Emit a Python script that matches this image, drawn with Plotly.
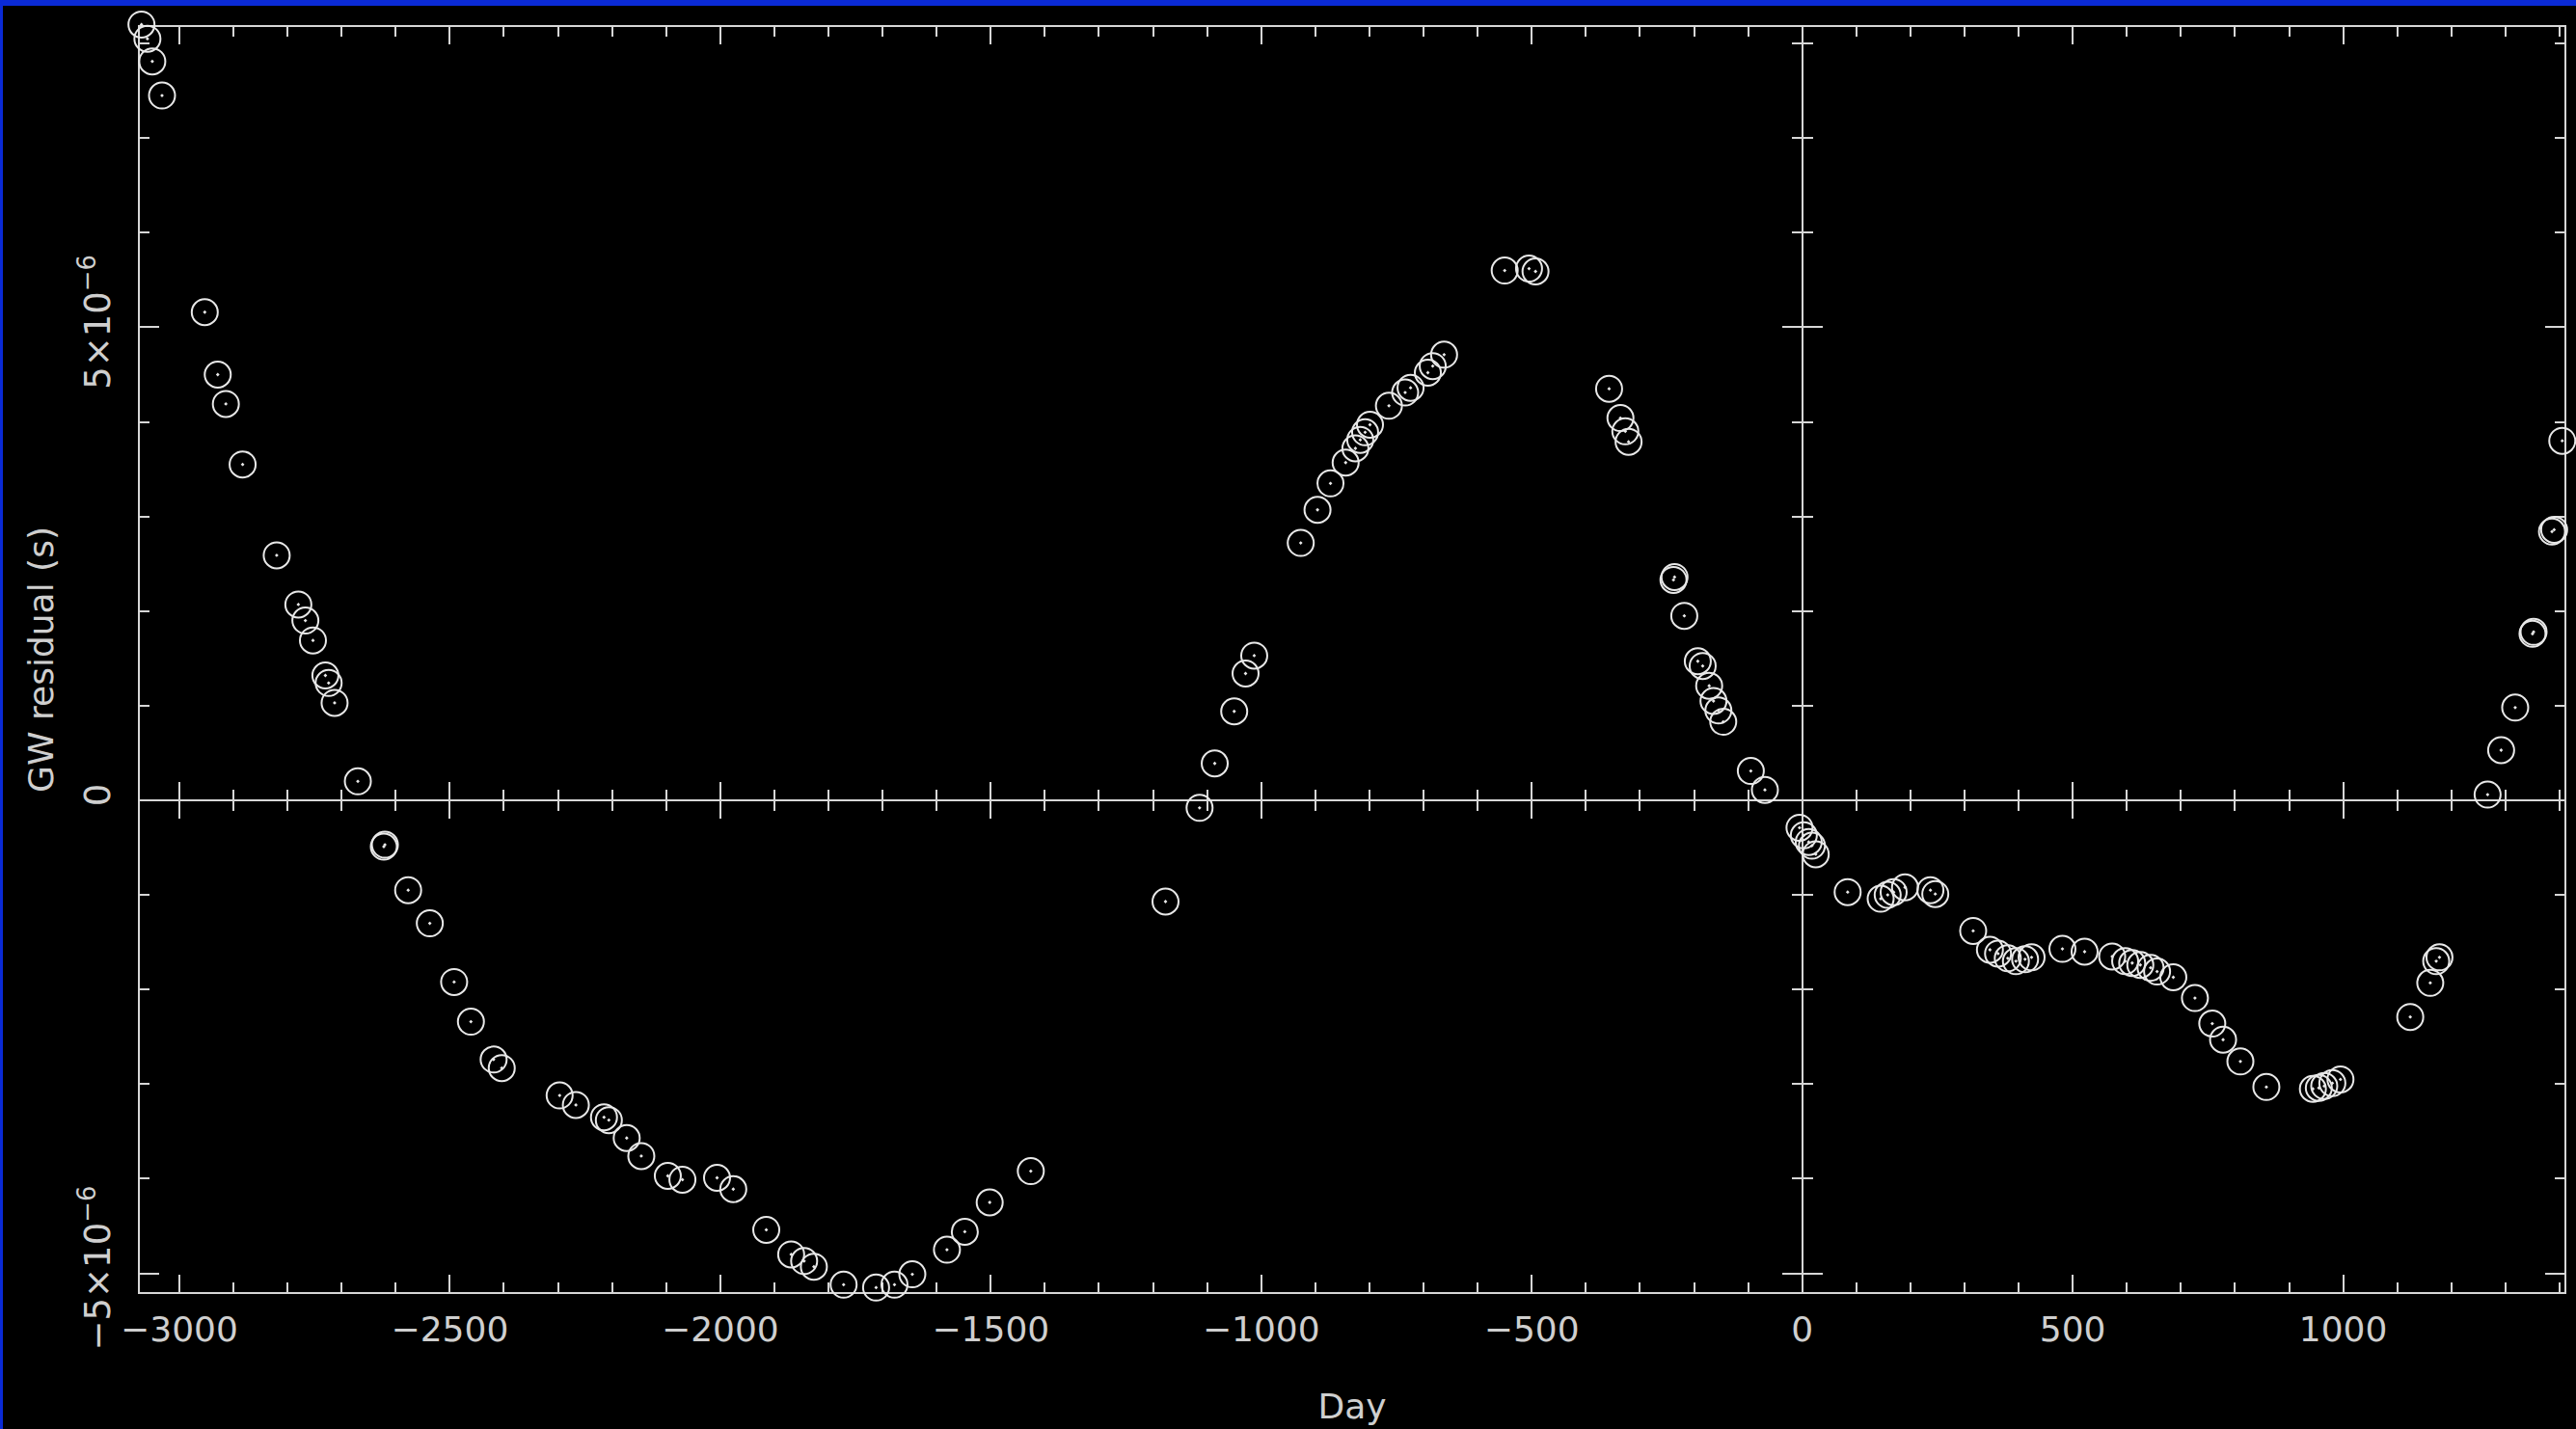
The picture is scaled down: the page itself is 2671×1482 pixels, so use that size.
import plotly.graph_objects as go

# ---- data ----
day = [-3070, -3059, -3050, -3032, -2953, -2929, -2914, -2883, -2820, -2780, -2767, -2753,
       -2730, -2724, -2713, -2670, -2622, -2620, -2577, -2537, -2492, -2461, -2419, -2404,
       -2297, -2267, -2215, -2206, -2173, -2146, -2097, -2070, -2006, -1976, -1915, -1869,
       -1845, -1827, -1772, -1712, -1678, -1645, -1581, -1548, -1502, -1426, -1177, -1114,
       -1086, -1050, -1029, -1013, -927, -896, -872, -844, -826, -817, -808, -799, -764,
       -734, -724, -692, -683, -662, -550, -505, -493, -357, -336, -327, -321, -238, -236,
       -218, -193, -184, -172, -164, -155, -146, -95, -69, -5, 3, 12, 18, 25, 84, 145, 158,
       169, 190, 237, 246, 316, 347, 362, 380, 395, 412, 424, 481, 522, 573, 597, 610, 625,
       644, 656, 686, 726, 758, 778, 810, 858, 944, 955, 965, 980, 995, 1124, 1161, 1172,
       1178, 1267, 1292, 1318, 1350, 1352, 1386, 1390, 1405]
residual_us = [8.20, 8.05, 7.81, 7.45, 5.16, 4.50, 4.19, 3.55, 2.59, 2.07, 1.90, 1.69,
               1.32, 1.24, 1.03, 0.20, -0.49, -0.47, -0.95, -1.30, -1.92, -2.34, -2.74, -2.83,
               -3.12, -3.22, -3.35, -3.38, -3.57, -3.76, -3.97, -4.01, -3.99, -4.11, -4.54, -4.80,
               -4.87, -4.93, -5.12, -5.15, -5.12, -5.01, -4.75, -4.56, -4.25, -3.92, -1.07, -0.08,
               0.39, 0.94, 1.34, 1.53, 2.72, 3.07, 3.35, 3.57, 3.72, 3.81, 3.89, 3.97, 4.17,
               4.31, 4.36, 4.52, 4.59, 4.71, 5.60, 5.62, 5.59, 4.35, 4.04, 3.90, 3.79, 2.33, 2.36,
               1.95, 1.47, 1.42, 1.21, 1.05, 0.95, 0.83, 0.31, 0.11, -0.29, -0.37, -0.44, -0.48,
               -0.57, -0.97, -1.04, -1.00, -0.97, -0.92, -0.95, -0.99, -1.38, -1.58, -1.62, -1.67,
               -1.70, -1.68, -1.66, -1.57, -1.60, -1.65, -1.70, -1.72, -1.74, -1.77, -1.81, -1.87,
               -2.09, -2.36, -2.53, -2.76, -3.03, -3.05, -3.04, -3.02, -2.99, -2.95, -2.29, -1.93,
               -1.70, -1.66, 0.06, 0.53, 0.98, 1.76, 1.78, 2.84, 2.86, 3.80]

x_tickvals = [-3000, -2500, -2000, -1500, -1000, -500, 0, 500, 1000]
x_ticktext = ["\u22123000", "\u22122500", "\u22122000", "\u22121500", "\u22121000", "\u2212500",
              "0", "500", "1000"]
y_tickvals = [-5e-6, 0, 5e-6]
y_ticktext = ["\u22125\u00d710<sup>\u22126</sup>", "0", "5\u00d710<sup>\u22126</sup>"]

x_title = "Day"
y_title = "GW residual (s)"

# ---- styling ----
W, H = 2671, 1482
ML, MR, MT, MB = 145, 12, 0, 142
FRAME_TOP = 28                       # frame top in px from the top of the page
XR = [-3073, 1409]
YR = [-5.198e-6, 8.174e-6]
FG = "#d6d6d6"
TXT = "#cfcfcf"
BLUE = "#0a2ad6"
FONT = dict(family="DejaVu Sans", size=36, color=TXT)
YFONT = dict(family="DejaVu Sans", size=37, color=TXT)

pw = W - ML - MR
ph = H - MT - MB                     # full plotting height (includes strip above frame)
fh = ph - FRAME_TOP                  # frame height
ytop = fh / ph                       # frame domain top
# data axis spans the full height so points poking above the frame stay visible
YR_DATA = [YR[0], YR[0] + (YR[1] - YR[0]) * ph / fh]

y_res = [v * 1e-6 for v in residual_us]

fig = go.Figure()
# helper (empty) traces that register the frame and zero-line axes
fig.add_trace(go.Scatter(x=[], y=[], xaxis="x", yaxis="y", showlegend=False))
fig.add_trace(go.Scatter(x=[], y=[], xaxis="x2", yaxis="y", showlegend=False))
fig.add_trace(go.Scatter(x=[], y=[], xaxis="x3", yaxis="y", showlegend=False))
fig.add_trace(go.Scatter(x=[], y=[], xaxis="x", yaxis="y2", showlegend=False))
fig.add_trace(go.Scatter(x=[], y=[], xaxis="x", yaxis="y3", showlegend=False))
# the data
fig.add_trace(go.Scatter(
    x=day, y=y_res, mode="markers", cliponaxis=False, showlegend=False,
    xaxis="x5", yaxis="y5",
    marker=dict(symbol="circle-open-dot", size=27, color="#e8e8e8",
                line=dict(width=2, color="#e8e8e8")),
))

y0_frac = (0 - YR[0]) / (YR[1] - YR[0]) * ytop
x0_frac = (0 - XR[0]) / (XR[1] - XR[0])

common_x = dict(range=XR, tickmode="array", tickvals=x_tickvals, ticklen=18, tickwidth=2,
                tickcolor=FG, showgrid=False, zeroline=False, linecolor=FG, linewidth=2)
minor_x = dict(tickmode="linear", tick0=0, dtick=100, ticklen=10, tickwidth=2, tickcolor=FG,
               showgrid=False)
common_y = dict(range=YR, tickmode="array", tickvals=y_tickvals, ticklen=20, tickwidth=2,
                tickcolor=FG, showgrid=False, zeroline=False, linecolor=FG, linewidth=2)
minor_y = dict(tickmode="linear", tick0=0, dtick=1e-6, ticklen=10, tickwidth=2, tickcolor=FG,
               showgrid=False)

fig.update_layout(
    width=W, height=H,
    margin=dict(l=ML, r=MR, t=MT, b=MB, pad=0),
    paper_bgcolor="black", plot_bgcolor="rgba(0,0,0,0)",
    font=FONT,
    showlegend=False,
    xaxis=dict(**common_x, ticktext=x_ticktext, ticks="inside", mirror="ticks", showline=True,
               minor=dict(**minor_x, ticks="inside"), tickfont=FONT, ticklabelstandoff=6,
               anchor="y", domain=[0, 1],
               title=dict(text=x_title, font=FONT, standoff=48)),
    yaxis=dict(**common_y, ticktext=y_ticktext, ticks="inside", mirror="ticks", showline=True,
               minor=dict(**minor_y, ticks="inside"), tickfont=YFONT, tickangle=-90,
               ticklabelstandoff=14, anchor="x", domain=[0, ytop],
               title=dict(text=y_title, font=FONT, standoff=8)),
    xaxis2=dict(**common_x, overlaying="x", anchor="free", position=y0_frac, side="bottom",
                ticks="inside", showline=True, showticklabels=False,
                minor=dict(**minor_x, ticks="inside")),
    xaxis3=dict(**common_x, overlaying="x", anchor="free", position=y0_frac, side="bottom",
                ticks="outside", showline=True, showticklabels=False,
                minor=dict(**minor_x, ticks="outside")),
    yaxis2=dict(**common_y, overlaying="y", anchor="free", position=x0_frac, side="left",
                ticks="inside", showline=True, showticklabels=False,
                minor=dict(**minor_y, ticks="inside")),
    yaxis3=dict(**common_y, overlaying="y", anchor="free", position=x0_frac, side="left",
                ticks="outside", showline=True, showticklabels=False,
                minor=dict(**minor_y, ticks="outside")),
    xaxis5=dict(range=XR, domain=[0, 1], anchor="y5", visible=False),
    yaxis5=dict(range=YR_DATA, domain=[0, 1], anchor="x5", visible=False),
    shapes=[
        dict(type="rect", xref="paper", yref="paper", layer="above",
             x0=-ML / pw, x1=(W - ML) / pw, y0=(ph + MT - 6) / ph, y1=(ph + MT) / ph,
             fillcolor=BLUE, line=dict(width=0)),
        dict(type="rect", xref="paper", yref="paper", layer="above",
             x0=-ML / pw, x1=(-ML + 3) / pw, y0=-MB / ph, y1=(ph + MT) / ph,
             fillcolor=BLUE, line=dict(width=0)),
    ],
)

fig.write_html("out.html")
